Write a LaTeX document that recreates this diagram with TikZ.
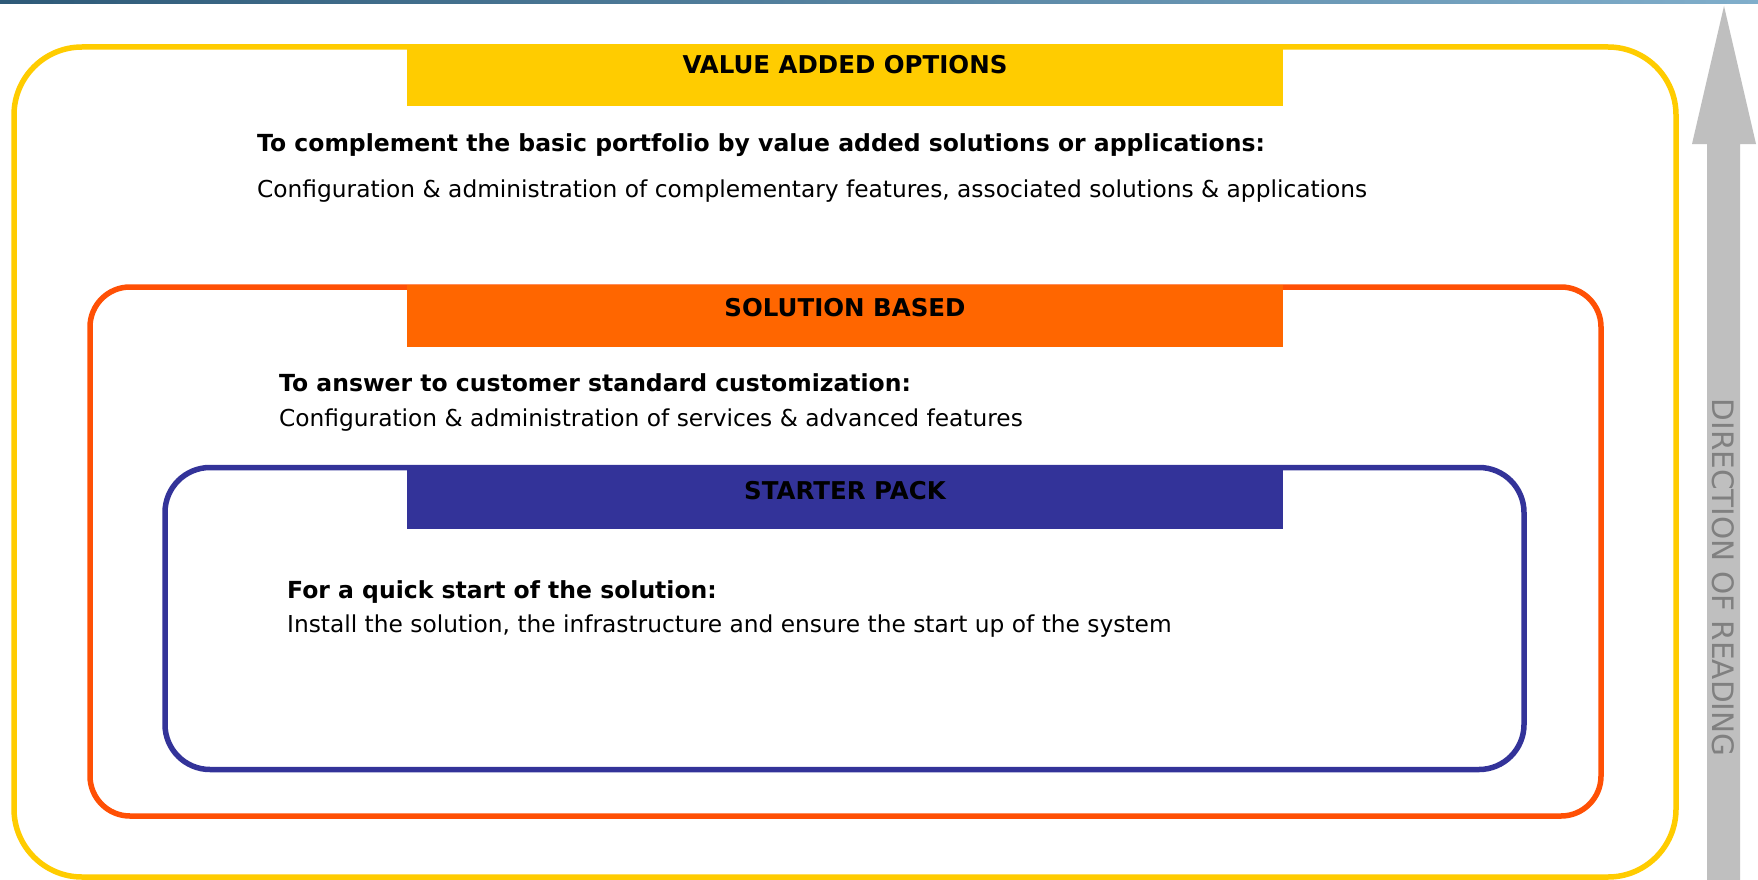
\documentclass[tikz,border=0pt]{standalone}
\usepackage{fontspec}
\setmainfont{DejaVu Sans}
\definecolor{vyellow}{HTML}{FFCC00}
\definecolor{vorange}{HTML}{FF6600}
\definecolor{vorangeline}{HTML}{FF5005}
\definecolor{vblue}{HTML}{333399}
\definecolor{vgray}{HTML}{BFBFBF}
\definecolor{vtext}{HTML}{808080}
\definecolor{barL}{HTML}{2E5A78}
\definecolor{barR}{HTML}{80AECB}
\begin{document}
\begin{tikzpicture}[x=1pt,y=-1pt,
  frame/.style={draw, line width=5.5pt, inner sep=0pt, outer sep=0pt},
  tab/.style={inner sep=0pt, outer sep=0pt, minimum width=876pt, minimum height=62pt},
  tabtext/.style={font=\fontsize{24.5}{30}\selectfont\bfseries, anchor=base, inner sep=0pt},
  head/.style={font=\fontsize{23.5}{28}\selectfont\bfseries, anchor=base west, inner sep=0pt},
  body/.style={font=\fontsize{23.3}{28}\selectfont, anchor=base west, inner sep=0pt}]
\useasboundingbox (0,0) rectangle (1758,880);
\fill[white] (0,0) rectangle (1758,880);
% top bar
\shade[left color=barL, right color=barR] (0,0) rectangle (1758,3.5);
% arrow
\fill[vgray] (1707,880) -- (1707,144) -- (1692,144) -- (1724,6) -- (1756,144) -- (1740,144) -- (1740,880) -- cycle;
\node[rotate=-90, text=vtext, inner sep=0pt, font=\fontsize{29.5}{34}\selectfont] (dir) at (1723.5,577.5) {DIRECTION OF READING};
% frames
\node[frame, draw=vyellow, rounded corners=68pt, minimum width=1662pt, minimum height=830pt] (yb) at (845,462) {};
\node[frame, draw=vorangeline, rounded corners=40pt, minimum width=1511pt, minimum height=529pt] (ob) at (845.5,551.5) {};
\node[frame, draw=vblue, rounded corners=45pt, minimum width=1359pt, minimum height=302pt] (bb) at (844.5,618.5) {};
% tabs
\node[tab, fill=vyellow] (yt) at (845,75) {};
\node[tab, fill=vorange] (ot) at (845,316) {};
\node[tab, fill=vblue] (bt) at (845,498) {};
\node[tabtext] (ytt) at (845,74) {VALUE ADDED OPTIONS};
\node[tabtext] (ott) at (845,316) {SOLUTION BASED};
\node[tabtext] (btt) at (845,499) {STARTER PACK};
% texts
\node[head] (yh) at (257,151.5) {To complement the basic portfolio by value added solutions or applications:};
\node[body] (yd) at (257,197) {Configuration \& administration of complementary features, associated solutions \& applications};
\node[head] (oh) at (279,391.5) {To answer to customer standard customization:};
\node[body] (od) at (279,426) {Configuration \& administration of services \& advanced features};
\node[head] (bh) at (287,598) {For a quick start of the solution:};
\node[body] (bd) at (287,632) {Install the solution, the infrastructure and ensure the start up of the system};
\end{tikzpicture}
\end{document}
